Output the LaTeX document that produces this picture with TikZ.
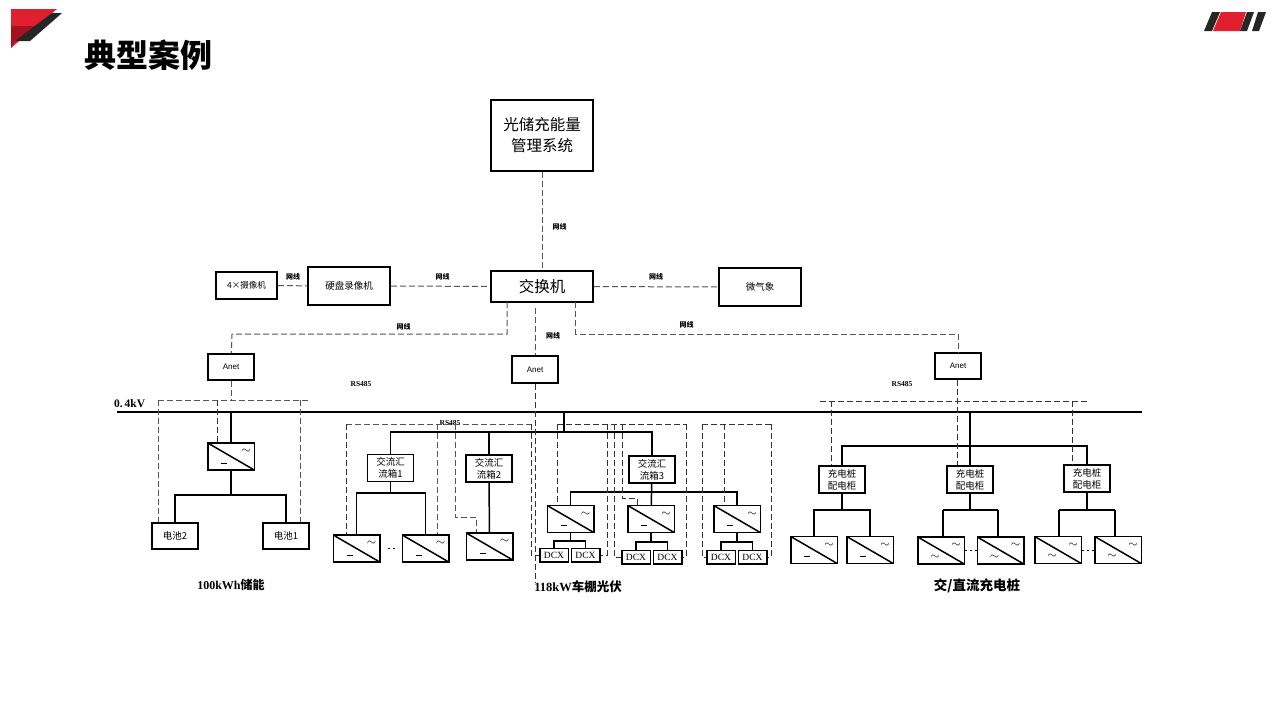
\documentclass[tikz,border=0pt]{standalone}
\usepackage{fontspec}
\setmainfont{Noto Sans CJK SC}
\newfontfamily\serifbf{Liberation Serif}
\newfontfamily\arialf{Liberation Sans}
\usetikzlibrary{positioning}
\definecolor{logored}{HTML}{E0202F}
\definecolor{logodark}{HTML}{A5121E}
\definecolor{logoblack}{HTML}{262626}
\definecolor{netgray}{HTML}{555555}
\tikzset{
  box/.style={draw=black,line width=1.5pt,fill=white,inner sep=0pt,align=center,text=black},
  bigbox/.style={box,minimum width=102pt,font=\fontsize{15.5}{21}\selectfont},
  midbox/.style={box,minimum width=82pt,minimum height=38pt,font=\fontsize{9.5}{12}\selectfont},
  anetbox/.style={box,minimum width=46pt,minimum height=26pt,font=\arialf\fontsize{8}{10}\selectfont},
  cabbox/.style={box,minimum width=46pt,minimum height=27pt,font=\fontsize{9.5}{12}\selectfont},
  dcxbox/.style={box,minimum width=28.5pt,minimum height=13.5pt,font=\serifbf\fontsize{9.5}{10}\selectfont},
  pcsbox/.style={box,minimum width=46.5pt,minimum height=27pt,
    path picture={\draw[line width=1.5pt] (path picture bounding box.north west) -- (path picture bounding box.south east);}},
  sym/.style={inner sep=0pt,font=\fontsize{13}{13}\selectfont},
  feed/.style={line width=1.5pt,black},
  netline/.style={line width=1pt,netgray,dash pattern=on 6pt off 3pt},
  rsline/.style={line width=0.9pt,black!80,dash pattern=on 6pt off 3pt},
  gapline/.style={line width=0.8pt,black,dash pattern=on 2pt off 3pt},
  netlabel/.style={inner sep=0pt,font=\bfseries\fontsize{7}{8}\selectfont},
  rslabel/.style={inner sep=0pt,font=\serifbf\bfseries\fontsize{7.5}{8}\selectfont},
  grouplabel/.style={inner sep=0pt,font=\bfseries\fontsize{12}{14}\selectfont},
}
\newcommand{\pcsdc}[3]{
  \node[pcsbox] (#1) at (#2,#3) {};
  \node[sym] (#1-ac) at ([xshift=15pt,yshift=5pt]#1.center) {$\sim$};
  \node[sym] (#1-dc) at ([xshift=-7pt,yshift=-6.5pt]#1.center) {\rule{6pt}{0.9pt}};
}
\newcommand{\pcsac}[3]{
  \node[pcsbox] (#1) at (#2,#3) {};
  \node[sym] (#1-ac) at ([xshift=15pt,yshift=5pt]#1.center) {$\sim$};
  \node[sym] (#1-in) at ([xshift=-6pt,yshift=-6.5pt]#1.center) {$\sim$};
}
\begin{document}
\begin{tikzpicture}[x=1pt,y=-1pt]
\useasboundingbox (0,0) rectangle (1280,720);
\fill[white] (0,0) rectangle (1280,720);
% logos
\fill[logored] (11,9) -- (57,9) -- (11,48) -- cycle;
\fill[logodark] (11,26) -- (37,26) -- (15,41) -- (11,48) -- cycle;
\fill[logoblack] (52,13) -- (62,13) -- (30,41) -- (15,41) -- cycle;
\fill[logoblack] (1212,12) -- (1220,12) -- (1212,31) -- (1204,31) -- cycle;
\fill[logored] (1221,12) -- (1246,12) -- (1240,31) -- (1213,31) -- cycle;
\fill[logoblack] (1247,12) -- (1254,12) -- (1247,31) -- (1240,31) -- cycle;
\fill[logoblack] (1258,12) -- (1266,12) -- (1259,31) -- (1252,31) -- cycle;
\node[inner sep=0pt,font=\bfseries\fontsize{32}{32}\selectfont] (title) at (148,55) {典型案例};

% upper level
\node[bigbox,minimum height=71pt] (ems) at (542,135.5) {光储充能量\\管理系统};
\node[bigbox,minimum height=31pt] (sw) at (542,286.5) {交换机};
\node[midbox,minimum width=61pt,minimum height=27pt,font=\fontsize{8.5}{10}\selectfont] (cam) at (246.5,285.5) {4×摄像机};
\node[midbox] (nvr) at (349,286) {硬盘录像机};
\node[midbox] (wx) at (760,287) {微气象};
\node[anetbox] (anetL) at (231,367) {Anet};
\node[anetbox,minimum height=27pt] (anetM) at (535,369.5) {Anet};
\node[anetbox] (anetR) at (958,366) {Anet};

\coordinate (swL) at (507,302);
\coordinate (swM) at (535,308);
\coordinate (swR) at (575.5,302);
\coordinate (netL) at (232,334);
\coordinate (netR) at (958,334);
\draw[netline] (ems) -- (sw);
\draw[netline] (cam) -- (nvr);
\draw[netline] (nvr) -- (sw);
\draw[netline] (sw) -- (wx);
\draw[netline] (swL) |- (netL) -- (anetL);
\draw[netline] (swM) -- (anetM);
\draw[netline] (swR) |- (netR) -- (anetR);
\node[netlabel] (lab1) at (559.5,226.5) {网线};
\node[netlabel] (lab2) at (293,277) {网线};
\node[netlabel] (lab3) at (442.5,276.5) {网线};
\node[netlabel] (lab4) at (656,276.5) {网线};
\node[netlabel] (lab5) at (403.5,327) {网线};
\node[netlabel] (lab6) at (553,336) {网线};
\node[netlabel] (lab7) at (686.5,325) {网线};
\node[rslabel] (rs1) at (361,384) {RS485};
\node[rslabel] (rs2) at (902,384) {RS485};
\node[rslabel] (rs3) at (450,423) {RS485};

% bus
\coordinate (busW) at (117,412);
\coordinate (busE) at (1142,412);
\draw[line width=1.6pt] (busW) -- (busE);
\node[inner sep=0pt,anchor=west,font=\serifbf\bfseries\fontsize{11.5}{12}\selectfont] (kv) at (114,404) {0.\,4kV};

% storage
\pcsdc{pcsS}{231}{456.5}
\node[cabbox,minimum height=26pt] (bat2) at (175,536) {电池2};
\node[cabbox,minimum height=26pt] (bat1) at (286,536) {电池1};
\coordinate (busS) at (231,412);
\coordinate (teeS) at (231,495);
\draw[feed] (busS) -- (pcsS);
\draw[feed] (pcsS) -- (teeS);
\draw[feed] (bat2) |- (teeS) -| (bat1);
\coordinate (rsSa) at (158,400);
\coordinate (rsSb) at (300,400);
\coordinate (rsSc) at (310,400);
\coordinate (rsSd) at (217.5,400);
\coordinate (rsSe) at (231,400);
\draw[netline] (anetL) -- (rsSe);
\draw[netline] (rsSa) -- (rsSc);
\draw[netline] (rsSa) -- (rsSa |- bat2.north);
\draw[netline] (rsSb) -- (rsSb |- bat1.north);
\draw[rsline] (rsSd) -- (rsSd |- pcsS.north);
\node[grouplabel] (capS) at (231,585) {{\serifbf 100kWh}储能};

% pv combiners
\node[cabbox] (ac1) at (390.5,468) {交流汇\\流箱1};
\node[cabbox] (ac2) at (489,468.5) {交流汇\\流箱2};
\node[cabbox] (ac3) at (652,469.5) {交流汇\\流箱3};
\pcsdc{pcsA}{356.5}{548.5}
\pcsdc{pcsB}{425.5}{548.5}
\pcsdc{pcsC}{489.5}{546.5}
\pcsdc{pcsD}{570.5}{519}
\pcsdc{pcsE}{651}{519}
\pcsdc{pcsF}{737}{519}
\coordinate (busP) at (564,412);
\coordinate (teeP) at (564,432);
\coordinate (teeA) at (390.5,493);
\coordinate (teeF) at (652,492);
\draw[feed] (busP) -- (teeP);
\draw[feed] (ac1) |- (teeP) -| (ac3);
\draw[feed] (ac2) -- (ac2 |- teeP);
\draw[feed] (ac1) -- (teeA);
\draw[feed] (pcsA) |- (teeA) -| (pcsB);
\draw[feed] (ac2) -- (pcsC);
\draw[feed] (ac3) -- (pcsE);
\draw[feed] (pcsD) |- (teeF) -| (pcsF);
\draw[gapline,shorten <=7pt,shorten >=4pt] (pcsA) -- (pcsB);

% dcx
\foreach \nm/\cxa/\cxb/\cy/\tee in {D/554/585.5/555/541,E/636/667.5/557/542,F/721/752.5/557/542}{
  \node[dcxbox] (dcx\nm a) at (\cxa,\cy) {DCX};
  \node[dcxbox] (dcx\nm b) at (\cxb,\cy) {DCX};
  \coordinate (tee\nm) at (pcs\nm |- 0,\tee);
  \draw[feed] (pcs\nm) -- (tee\nm);
  \draw[feed] (dcx\nm a) |- (tee\nm) -| (dcx\nm b);
}

% pv rs485
\coordinate (rsPa) at (346,424);
\coordinate (rsPb) at (531,424);
\coordinate (rsPc) at (557,424);
\coordinate (rsPd) at (686,424);
\coordinate (rsPe) at (702,424);
\coordinate (rsPf) at (771,424);
\coordinate (rsPg) at (437,424);
\coordinate (rsPh) at (455,424);
\coordinate (rsPi) at (476,517);
\coordinate (rsPj) at (607,424);
\coordinate (rsPk) at (614,424);
\coordinate (rsPl) at (622,424);
\coordinate (rsPm) at (637,498);
\coordinate (rsPn) at (724,424);
\coordinate (anetEnd) at (535,583);
\draw[rsline] (anetM) -- (anetEnd);
\draw[netline] (rsPa) -- (rsPb);
\draw[rsline] (rsPc) -- (rsPd);
\draw[rsline] (rsPe) -- (rsPf);
\draw[rsline] (rsPa) -- (rsPa |- pcsA.north);
\draw[netline] (rsPg) -- (rsPg |- pcsB.north);
\draw[netline] (rsPh) |- (rsPi) -- (rsPi |- pcsC.north);
\draw[rsline] (rsPb) |- (dcxDa);
\draw[rsline] (rsPc) -- (rsPc |- pcsD.north);
\draw[rsline] (rsPj) |- (dcxDb);
\draw[rsline] (rsPk) |- (dcxEa);
\draw[rsline] (rsPl) |- (rsPm) -- (rsPm |- pcsE.north);
\draw[rsline] (rsPd) |- (dcxEb);
\draw[rsline] (rsPe) |- (dcxFa);
\draw[rsline] (rsPn) -- (rsPn |- pcsF.north);
\draw[rsline] (rsPf) |- (dcxFb);
\node[grouplabel,font=\bfseries\fontsize{12.5}{14}\selectfont] (capP) at (578,587) {{\serifbf 118kW}车棚光伏};

% charging
\node[cabbox] (cab1) at (842,479.5) {充电桩\\配电柜};
\node[cabbox] (cab2) at (970,479.5) {充电桩\\配电柜};
\node[cabbox] (cab3) at (1087,478.5) {充电桩\\配电柜};
\pcsdc{pcsG}{814}{550}
\pcsdc{pcsH}{870}{550}
\pcsac{pcsI}{941}{550.5}
\pcsac{pcsJ}{1000.5}{550.5}
\pcsac{pcsK}{1058}{550}
\pcsac{pcsL}{1118}{550}
\coordinate (busC) at (970,412);
\coordinate (teeC) at (970,446);
\coordinate (teeG) at (842,510);
\coordinate (teeI) at (970,510);
\coordinate (teeK) at (1087,510);
\draw[feed] (busC) -- (cab2);
\draw[feed] (cab1) |- (teeC) -| (cab3);
\draw[feed] (cab1) -- (teeG);
\draw[feed] (cab2) -- (teeI);
\draw[feed] (cab3) -- (teeK);
\coordinate (dropI) at (943,510);
\coordinate (dropJ) at (998,510);
\coordinate (dropK) at (1059,510);
\coordinate (dropL) at (1115,510);
\draw[feed] (pcsG) |- (teeG) -| (pcsH);
\draw[feed] (dropI) -- (dropJ);
\draw[feed] (dropI) -- (dropI |- pcsI.north);
\draw[feed] (dropJ) -- (dropJ |- pcsJ.north);
\draw[feed] (dropK) -- (dropL);
\draw[feed] (dropK) -- (dropK |- pcsK.north);
\draw[feed] (dropL) -- (dropL |- pcsL.north);
\draw[gapline] (pcsI) -- (pcsJ);
\draw[gapline] (pcsK) -- (pcsL);
\coordinate (rsCa) at (820,401);
\coordinate (rsCb) at (1088,401);
\coordinate (rsCc) at (831,401);
\coordinate (rsCd) at (1072,401);
\coordinate (rsCe) at (957,401);
\draw[rsline] (rsCa) -- (rsCb);
\draw[rsline] (rsCc) -- (rsCc |- cab1.north);
\draw[rsline] (rsCd) -- (rsCd |- cab3.north);
\draw[rsline] (anetR.south -| rsCe) -- (rsCe |- cab2.north);
\node[grouplabel,font=\bfseries\fontsize{13.5}{15}\selectfont] (capC) at (977,586) {交/直流充电桩};
\end{tikzpicture}
\end{document}
